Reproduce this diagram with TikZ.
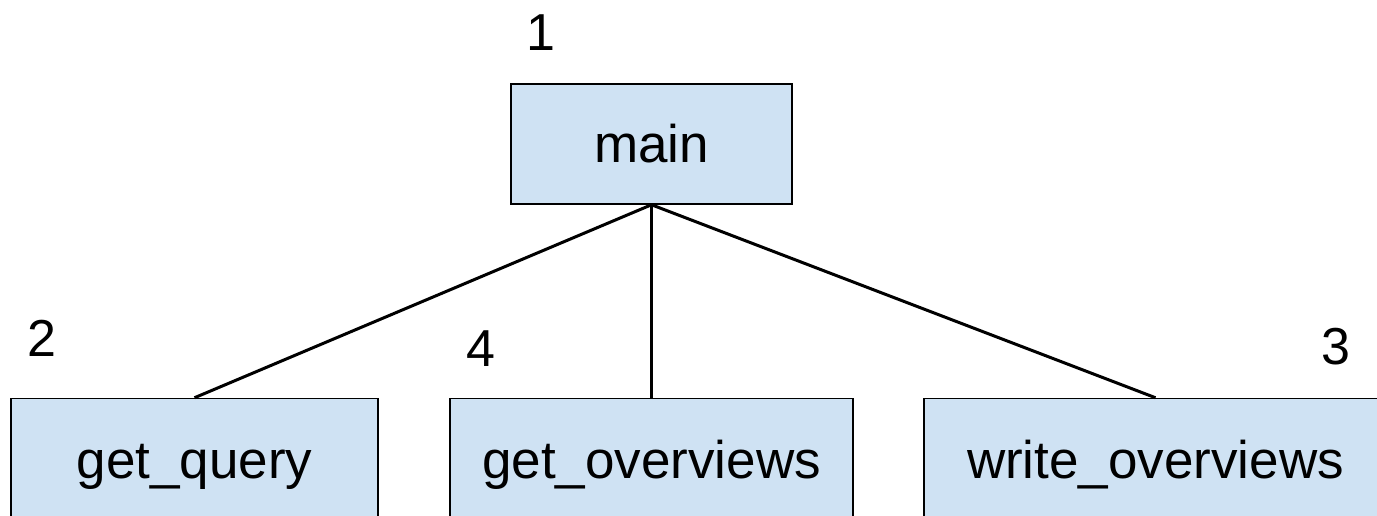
\documentclass[tikz,border=0pt]{standalone}
\usepackage{fontspec}
\setmainfont{Liberation Sans}
\definecolor{boxblue}{HTML}{CFE2F3}
\tikzset{
  fnbox/.style={draw=black, line width=1.5pt, fill=boxblue, inner sep=0pt,
    minimum height=121pt, text height=50pt, text depth=12pt,
    font=\fontsize{53}{60}\selectfont},
  ordnum/.style={inner sep=0pt, font=\fontsize{52}{60}\selectfont},
  calledge/.style={line width=3pt}
}
\begin{document}
\begin{tikzpicture}[x=1pt, y=-1pt]

  %% Page frame and clip.
  \useasboundingbox (0,0) rectangle (1377,516);
  \clip (0,0) rectangle (1377,516);


  %% The boxes:
  \node[fnbox, minimum width=281pt, minimum height=120pt] (main) at (651.5,144) {main};
  \node[fnbox, minimum width=367pt] (getquery) at (194.5,459) {get\_query};
  \node[fnbox, minimum width=403pt] (getoverviews) at (651.5,459) {get\_overviews};
  \node[fnbox, minimum width=463pt] (writeoverviews) at (1155.5,459) {write\_overviews};


  %% Calls from main:
  \draw[calledge] (main.south) -- (getquery.north);
  \draw[calledge] (main.south) -- (getoverviews.north);
  \draw[calledge] (main.south) -- (writeoverviews.north);


  %% Order numbers:
  \node[ordnum] (num1) at (541,33) {1};
  \node[ordnum] (num2) at (42,338) {2};
  \node[ordnum] (num4) at (481,349) {4};
  \node[ordnum] (num3) at (1336,347) {3};

\end{tikzpicture}
\end{document}
